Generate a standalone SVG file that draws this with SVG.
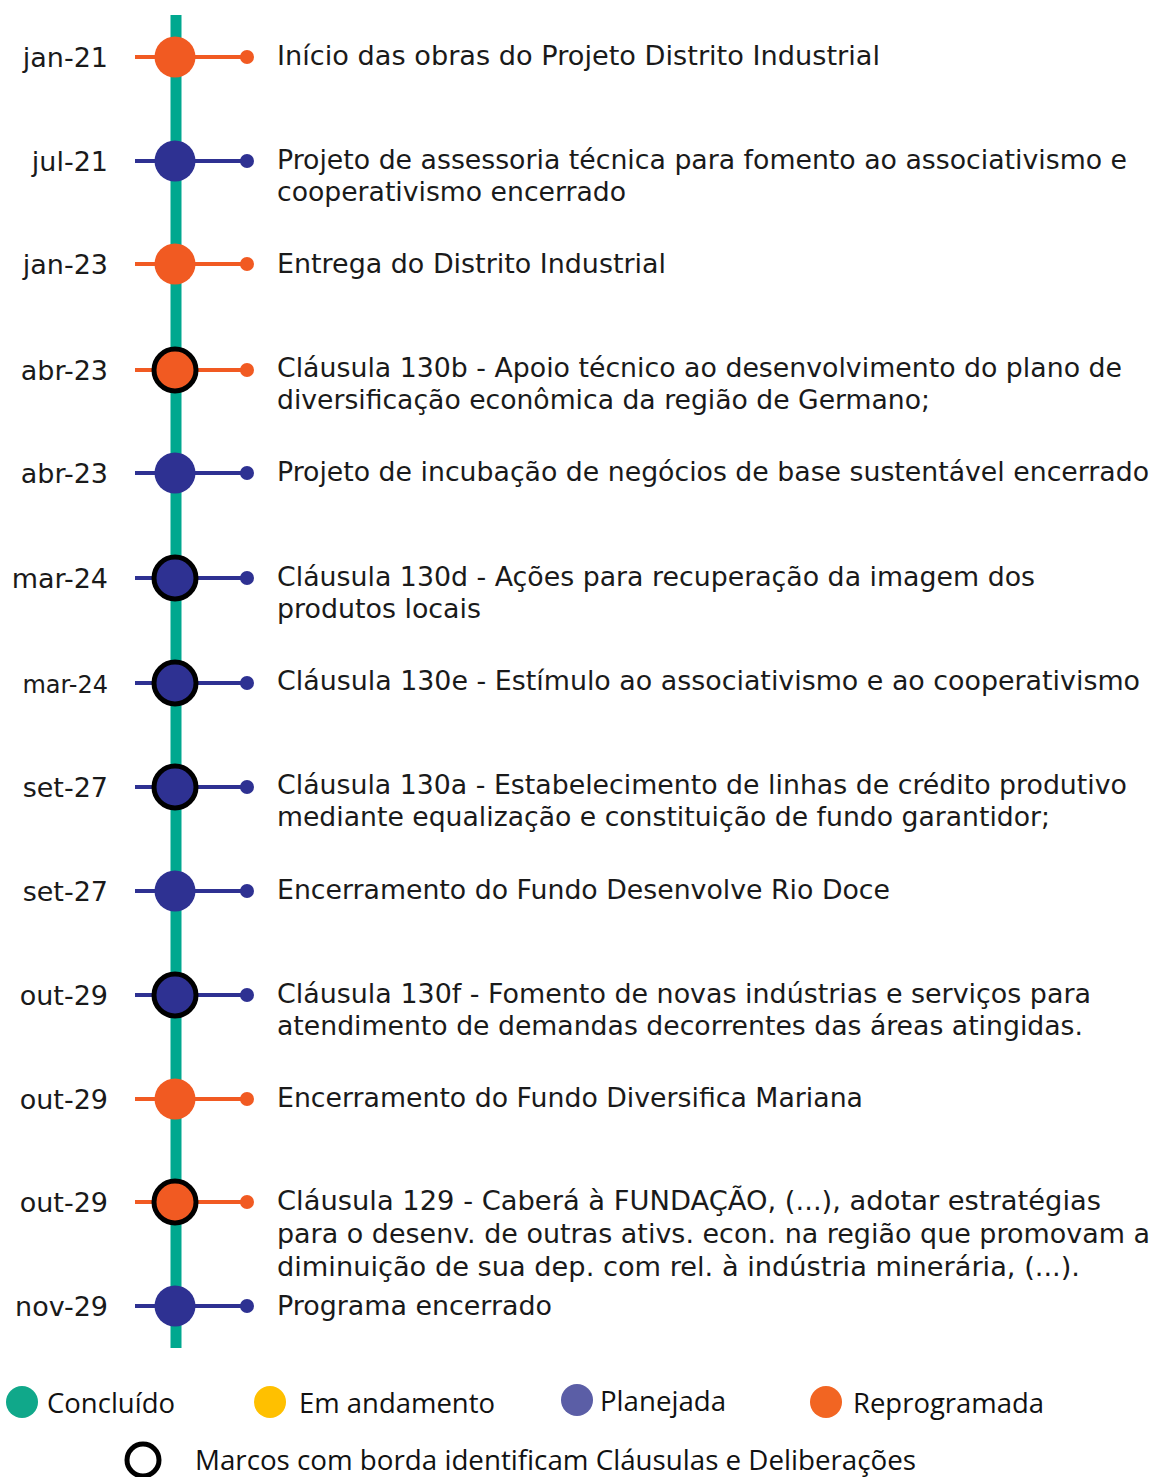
<svg xmlns="http://www.w3.org/2000/svg" width="1154" height="1477" viewBox="0 0 1154 1477">
<style>
.date{font-family:"DejaVu Sans",sans-serif;font-size:27px;fill:#1a1a1a;text-anchor:end}
.t{font-family:"DejaVu Sans",sans-serif;font-size:26px;fill:#1a1a1a}
.leg{font-family:"Open Sans","Liberation Sans",sans-serif;font-size:28px;fill:#111}
.o{fill:#F15A22}.b{fill:#2E3192}
.so{stroke:#F15A22;stroke-width:4}.sb{stroke:#2E3192;stroke-width:4}
.ring{stroke:#000;stroke-width:5}
</style>
<rect width="1154" height="1477" fill="#fff"/>
<g id="connectors">
<line x1="176" y1="15" x2="176" y2="1348" stroke="#00A88F" stroke-width="11"/>
</g>
<g id="n1"><line class="so" x1="135" y1="57" x2="247" y2="57"/><circle class="o" cx="247" cy="57" r="7"/><circle class="o" cx="175" cy="57" r="20.5"/><text class="date" x="108" y="67">jan-21</text><text class="t" x="277" y="65" textLength="603" lengthAdjust="spacingAndGlyphs">Início das obras do Projeto Distrito Industrial</text></g>
<g id="n2"><line class="sb" x1="135" y1="161" x2="247" y2="161"/><circle class="b" cx="247" cy="161" r="7"/><circle class="b" cx="175" cy="161" r="20.5"/><text class="date" x="108" y="171">jul-21</text><text class="t" x="277" y="169" textLength="850" lengthAdjust="spacingAndGlyphs">Projeto de assessoria técnica para fomento ao associativismo e</text><text class="t" x="277" y="201" textLength="349" lengthAdjust="spacingAndGlyphs">cooperativismo encerrado</text></g>
<g id="n3"><line class="so" x1="135" y1="264" x2="247" y2="264"/><circle class="o" cx="247" cy="264" r="7"/><circle class="o" cx="175" cy="264" r="20.5"/><text class="date" x="108" y="274">jan-23</text><text class="t" x="277" y="273" textLength="389" lengthAdjust="spacingAndGlyphs">Entrega do Distrito Industrial</text></g>
<g id="n4"><line class="so" x1="135" y1="370" x2="247" y2="370"/><circle class="o" cx="247" cy="370" r="7"/><circle class="o ring" cx="175" cy="370" r="21"/><text class="date" x="108" y="380">abr-23</text><text class="t" x="277" y="377" textLength="845" lengthAdjust="spacingAndGlyphs">Cláusula 130b - Apoio técnico ao desenvolvimento do plano de</text><text class="t" x="277" y="409" textLength="653" lengthAdjust="spacingAndGlyphs">diversificação econômica da região de Germano;</text></g>
<g id="n5"><line class="sb" x1="135" y1="473" x2="247" y2="473"/><circle class="b" cx="247" cy="473" r="7"/><circle class="b" cx="175" cy="473" r="20.5"/><text class="date" x="108" y="483">abr-23</text><text class="t" x="277" y="481" textLength="872" lengthAdjust="spacingAndGlyphs">Projeto de incubação de negócios de base sustentável encerrado</text></g>
<g id="n6"><line class="sb" x1="135" y1="578" x2="247" y2="578"/><circle class="b" cx="247" cy="578" r="7"/><circle class="b ring" cx="175" cy="578" r="21"/><text class="date" x="108" y="588">mar-24</text><text class="t" x="277" y="586" textLength="758" lengthAdjust="spacingAndGlyphs">Cláusula 130d - Ações para recuperação da imagem dos</text><text class="t" x="277" y="618" textLength="204" lengthAdjust="spacingAndGlyphs">produtos locais</text></g>
<g id="n7"><line class="sb" x1="135" y1="683" x2="247" y2="683"/><circle class="b" cx="247" cy="683" r="7"/><circle class="b ring" cx="175" cy="683" r="21"/><text class="date" x="108" y="693" style="font-size:24px">mar-24</text><text class="t" x="277" y="690" textLength="863" lengthAdjust="spacingAndGlyphs">Cláusula 130e - Estímulo ao associativismo e ao cooperativismo</text></g>
<g id="n8"><line class="sb" x1="135" y1="787" x2="247" y2="787"/><circle class="b" cx="247" cy="787" r="7"/><circle class="b ring" cx="175" cy="787" r="21"/><text class="date" x="108" y="797">set-27</text><text class="t" x="277" y="794" textLength="850" lengthAdjust="spacingAndGlyphs">Cláusula 130a - Estabelecimento de linhas de crédito produtivo</text><text class="t" x="277" y="826" textLength="773" lengthAdjust="spacingAndGlyphs">mediante equalização e constituição de fundo garantidor;</text></g>
<g id="n9"><line class="sb" x1="135" y1="891" x2="247" y2="891"/><circle class="b" cx="247" cy="891" r="7"/><circle class="b" cx="175" cy="891" r="20.5"/><text class="date" x="108" y="901">set-27</text><text class="t" x="277" y="899" textLength="613" lengthAdjust="spacingAndGlyphs">Encerramento do Fundo Desenvolve Rio Doce</text></g>
<g id="n10"><line class="sb" x1="135" y1="995" x2="247" y2="995"/><circle class="b" cx="247" cy="995" r="7"/><circle class="b ring" cx="175" cy="995" r="21"/><text class="date" x="108" y="1005">out-29</text><text class="t" x="277" y="1003" textLength="814" lengthAdjust="spacingAndGlyphs">Cláusula 130f - Fomento de novas indústrias e serviços para</text><text class="t" x="277" y="1035" textLength="806" lengthAdjust="spacingAndGlyphs">atendimento de demandas decorrentes das áreas atingidas.</text></g>
<g id="n11"><line class="so" x1="135" y1="1099" x2="247" y2="1099"/><circle class="o" cx="247" cy="1099" r="7"/><circle class="o" cx="175" cy="1099" r="20.5"/><text class="date" x="108" y="1109">out-29</text><text class="t" x="277" y="1107" textLength="586" lengthAdjust="spacingAndGlyphs">Encerramento do Fundo Diversifica Mariana</text></g>
<g id="n12"><line class="so" x1="135" y1="1202" x2="247" y2="1202"/><circle class="o" cx="247" cy="1202" r="7"/><circle class="o ring" cx="175" cy="1202" r="21"/><text class="date" x="108" y="1212">out-29</text><text class="t" x="277" y="1210" textLength="824" lengthAdjust="spacingAndGlyphs">Cláusula 129 - Caberá à FUNDAÇÃO, (...), adotar estratégias</text><text class="t" x="277" y="1243" textLength="873" lengthAdjust="spacingAndGlyphs">para o desenv. de outras ativs. econ. na região que promovam a</text><text class="t" x="277" y="1276" textLength="803" lengthAdjust="spacingAndGlyphs">diminuição de sua dep. com rel. à indústria minerária, (...).</text></g>
<g id="n13"><line class="sb" x1="135" y1="1306" x2="247" y2="1306"/><circle class="b" cx="247" cy="1306" r="7"/><circle class="b" cx="175" cy="1306" r="20.5"/><text class="date" x="108" y="1316">nov-29</text><text class="t" x="277" y="1315" textLength="275" lengthAdjust="spacingAndGlyphs">Programa encerrado</text></g>
<g id="legend">
<circle cx="22" cy="1402" r="16" fill="#10A88A"/><text class="leg" x="47" y="1413" textLength="128" lengthAdjust="spacingAndGlyphs">Concluído</text>
<circle cx="270" cy="1402" r="16" fill="#FFC000"/><text class="leg" x="299" y="1413" textLength="196" lengthAdjust="spacingAndGlyphs">Em andamento</text>
<circle cx="577" cy="1400" r="16" fill="#5B5EA6"/><text class="leg" x="600" y="1411" textLength="126" lengthAdjust="spacingAndGlyphs">Planejada</text>
<circle cx="826" cy="1402" r="16" fill="#F26522"/><text class="leg" x="853" y="1413" textLength="191" lengthAdjust="spacingAndGlyphs">Reprogramada</text>
<circle cx="143" cy="1460" r="16" fill="none" stroke="#000" stroke-width="5"/><text class="leg" x="195" y="1470" textLength="721" lengthAdjust="spacingAndGlyphs">Marcos com borda identificam Cláusulas e Deliberações</text>
</g>
</svg>
